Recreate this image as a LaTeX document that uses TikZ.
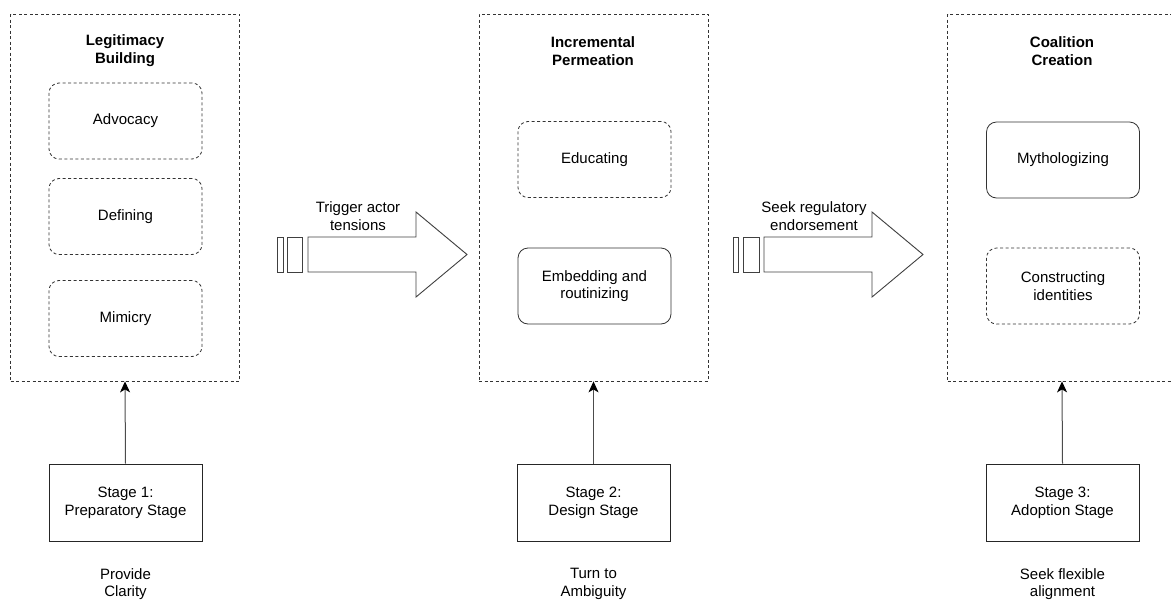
\documentclass[tikz,border=0pt]{standalone}
\usepackage{fontspec}
\setmainfont{Liberation Sans}
\usepackage{tikz}
\usetikzlibrary{arrows.meta,positioning}

\begin{document}
\begin{tikzpicture}[
  x=1pt,y=-1pt,
  phase/.style={draw=black!80,dashed,dash pattern=on 3pt off 2.5pt,line width=0.8pt,
                rectangle,minimum width=229pt,minimum height=367pt,inner sep=0pt},
  title/.style={align=center,font=\fontsize{15}{17.7}\selectfont\bfseries},
  tactic/.style={draw=black!80,rectangle,rounded corners=10pt,minimum width=153pt,
                 minimum height=76pt,align=center,line width=0.8pt,
                 font=\fontsize{15}{17.7}\selectfont},
  dtactic/.style={tactic,dashed,dash pattern=on 3pt off 2.5pt},
  stagebox/.style={draw=black!85,rectangle,minimum width=153pt,minimum height=77pt,
                   align=center,line width=0.9pt,font=\fontsize{15}{17.7}\selectfont},
  lbl/.style={align=center,font=\fontsize{15}{17.7}\selectfont},
  bar/.style={draw=black!75,rectangle,minimum height=35pt,inner sep=0pt,line width=0.9pt},
  blockarr/.style={draw=black!75,line width=0.9pt,line join=miter},
  conn/.style={-{Stealth[length=11pt,width=10pt,inset=3pt,black]},draw=black!70,line width=1pt}
]
\useasboundingbox (0,0) rectangle (1171,603);

%% Phase containers
\node[phase] (leg) at (125,197.5) {};
\node[phase] (inc) at (593.5,197.5) {};
\node[phase] (coa) at (1062,197.5) {};

%% Phase titles
\node[title] (legt) at (125,51) {Legitimacy\\Building};
\node[title] (inct) at (593,51) {Incremental\\Permeation};
\node[title] (coat) at (1062,51) {Coalition\\Creation};

%% Tactics inside each phase
\node[dtactic] (adv) at (125.5,121) {Advocacy};
\node[dtactic] (def) at (125.5,216.5) {Defining};
\node[dtactic] (mim) at (125.5,318.5) {Mimicry};

\node[dtactic] (edu) at (594.5,159.5) {Educating};
\node[tactic]  (emb) at (594.5,286) {Embedding and\\routinizing};

\node[tactic]  (myt) at (1063,160) {Mythologizing};
\node[dtactic] (con) at (1063,286) {Constructing\\identities};

%% Stages
\node[stagebox] (st1) at (125.5,502.5) {Stage 1:\\Preparatory Stage};
\node[stagebox] (st2) at (593.5,502.5) {Stage 2:\\Design Stage};
\node[stagebox] (st3) at (1062.5,502.5) {Stage 3:\\Adoption Stage};

%% Stage captions
\node[lbl] (cap1) at (125.5,584) {Provide\\Clarity};
\node[lbl] (cap2) at (593.5,584) {Turn to\\Ambiguity};
\node[lbl] (cap3) at (1062.5,584) {Seek flexible\\alignment};

%% Stage to phase arrows
\draw[conn] (st1.north) -- (leg.south);
\draw[conn] (st2.north) -- (inc.south);
\draw[conn] (st3.north) -- (coa.south);

%% Transition arrows
\node[bar,minimum width=6pt]  (b1a) at (280,254.5) {};
\node[bar,minimum width=15pt] (b1b) at (294.5,254.5) {};
\coordinate (tail1) at (308,237);
\draw[blockarr] (tail1) -- ++(108,0) -- ++(0,-25) -- ++(51,42.5)
  -- ++(-51,42.5) -- ++(0,-25) -- ++(-108,0) -- cycle;
\node[lbl] (tr1) at (358,216) {Trigger actor\\tensions};

\node[bar,minimum width=5pt]  (b2a) at (735.5,254.5) {};
\node[bar,minimum width=16pt] (b2b) at (751,254.5) {};
\coordinate (tail2) at (764,237);
\draw[blockarr] (tail2) -- ++(108,0) -- ++(0,-25) -- ++(51,42.5)
  -- ++(-51,42.5) -- ++(0,-25) -- ++(-108,0) -- cycle;
\node[lbl] (tr2) at (814,216) {Seek regulatory\\endorsement};
\end{tikzpicture}
\end{document}
